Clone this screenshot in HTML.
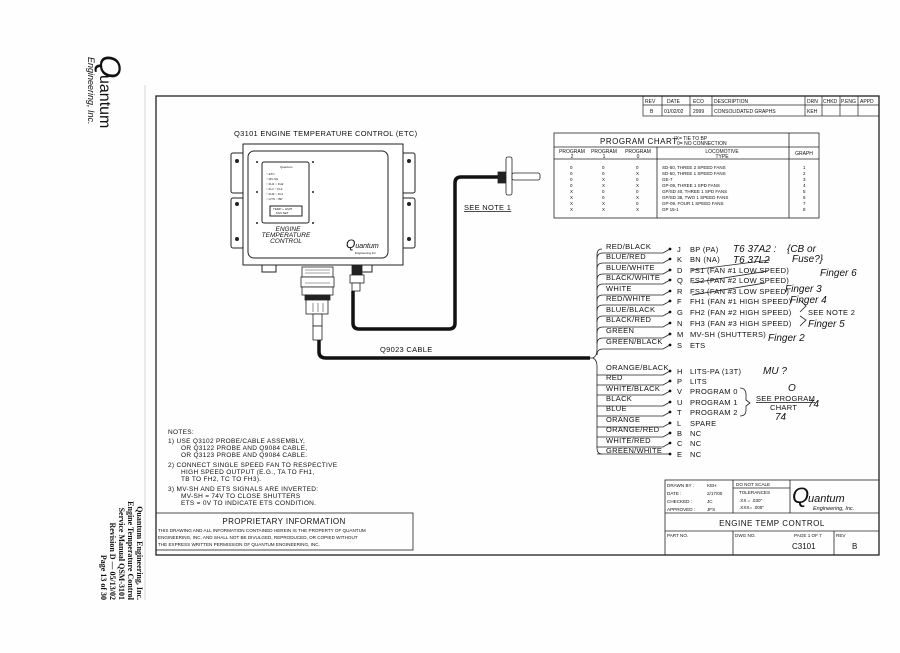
<!DOCTYPE html>
<html><head><meta charset="utf-8"><style>
html,body{margin:0;padding:0;background:#fff;}
svg{display:block;}
text{font-family:"Liberation Sans",sans-serif;fill:#111;}
.s{font-size:7.5px;letter-spacing:0.3px;}
.t{font-size:5px;}
.h{font-family:"Liberation Serif",serif;font-style:italic;font-size:10px;}
</style></head><body>
<svg width="900" height="653" viewBox="0 0 900 653" xmlns="http://www.w3.org/2000/svg">
<rect width="900" height="653" fill="#fefefe"/>
<!-- left logo rotated -->
<g transform="translate(100,55) rotate(90)">
<text x="0" y="0" style="font-size:30px;font-style:italic">Q</text>
<text x="20" y="0" style="font-size:16px">uantum</text>
<text x="2" y="12" style="font-size:9px;font-style:italic">Engineering, Inc.</text>
</g>
<line x1="145" y1="85" x2="145" y2="600" stroke="#bbb" stroke-width="0.6"/>
<!-- bottom-left rotated text -->
<g transform="translate(0,600) rotate(90)" style="font-family:'Liberation Serif',serif;font-size:8px;font-weight:bold">
<text x="0" y="-137" text-anchor="end" style="font-family:'Liberation Serif',serif">Quantum Engineering, Inc.</text>
<text x="0" y="-128" text-anchor="end" style="font-family:'Liberation Serif',serif">Engine Temperature Control</text>
<text x="0" y="-119" text-anchor="end" style="font-family:'Liberation Serif',serif">Service Manual QSM-3101</text>
<text x="0" y="-110" text-anchor="end" style="font-family:'Liberation Serif',serif">Revision D — 05/13/02</text>
<text x="0" y="-101" text-anchor="end" style="font-family:'Liberation Serif',serif">Page 13 of 30</text>
</g>
<!-- frame -->
<rect x="156" y="96" width="723" height="459" fill="none" stroke="#222" stroke-width="1.3"/>
<!-- revision table -->
<g stroke="#222" stroke-width="0.7" fill="none">
<rect x="643" y="96" width="236" height="20"/>
<line x1="643" y1="105" x2="879" y2="105"/>
<line x1="662" y1="96" x2="662" y2="116"/><line x1="690" y1="96" x2="690" y2="116"/>
<line x1="712" y1="96" x2="712" y2="116"/><line x1="805" y1="96" x2="805" y2="116"/>
<line x1="822" y1="96" x2="822" y2="116"/><line x1="840" y1="96" x2="840" y2="116"/>
<line x1="858" y1="96" x2="858" y2="116"/>
</g>
<g class="t">
<text x="645" y="103">REV</text><text x="667" y="103">DATE</text><text x="693" y="103">ECO</text><text x="714" y="103">DESCRIPTION</text>
<text x="807" y="103">DRN</text><text x="823" y="103">CHKD</text><text x="841" y="103">P.ENG</text><text x="860" y="103">APPD</text>
<text x="650" y="113">B</text><text x="664" y="113">01/02/02</text><text x="693" y="113">2999</text><text x="714" y="113">CONSOLIDATED GRAPHS</text><text x="807" y="113">KEH</text>
</g>
<!-- program chart -->
<g stroke="#222" stroke-width="0.8" fill="none">
<rect x="554" y="133" width="265" height="85"/>
<line x1="554" y1="147" x2="819" y2="147"/>
<line x1="554" y1="159" x2="819" y2="159"/>
<line x1="657" y1="147" x2="657" y2="218"/>
<line x1="789" y1="133" x2="789" y2="218"/>
</g>
<text x="600" y="144" style="font-size:8px;letter-spacing:0.5px">PROGRAM CHART</text>
<text x="674" y="140" class="t">{X= TIE TO BP</text><text x="677" y="145" class="t">0= NO CONNECTION</text>
<g class="t" text-anchor="middle">
<text x="572" y="153">PROGRAM</text><text x="572" y="158">2</text>
<text x="604" y="153">PROGRAM</text><text x="604" y="158">1</text>
<text x="638" y="153">PROGRAM</text><text x="638" y="158">0</text>
<text x="722" y="153">LOCOMOTIVE</text><text x="722" y="158">TYPE</text>
<text x="804" y="155">GRAPH</text>
</g>
<g class="t" style="font-size:4.5px">
<text x="570" y="169">0</text><text x="602" y="169">0</text><text x="636" y="169">0</text><text x="662" y="169">SD-50, THREE 2 SPEED FANS</text><text x="803" y="169">1</text>
<text x="570" y="175">0</text><text x="602" y="175">0</text><text x="636" y="175">X</text><text x="662" y="175">SD-50, THREE 1 SPEED FANS</text><text x="803" y="175">2</text>
<text x="570" y="181">0</text><text x="602" y="181">X</text><text x="636" y="181">0</text><text x="662" y="181">GE-7</text><text x="803" y="181">3</text>
<text x="570" y="187">0</text><text x="602" y="187">X</text><text x="636" y="187">X</text><text x="662" y="187">GP-09, THREE 1 SPD FANS</text><text x="803" y="187">4</text>
<text x="570" y="193">X</text><text x="602" y="193">0</text><text x="636" y="193">0</text><text x="662" y="193">GP/SD 40, THREE 1 SPD FANS</text><text x="803" y="193">5</text>
<text x="570" y="199">X</text><text x="602" y="199">0</text><text x="636" y="199">X</text><text x="662" y="199">GP/SD 38, TWO 1 SPEED FANS</text><text x="803" y="199">6</text>
<text x="570" y="205">X</text><text x="602" y="205">X</text><text x="636" y="205">0</text><text x="662" y="205">GP-09, FOUR 1 SPEED FANS</text><text x="803" y="205">7</text>
<text x="570" y="211">X</text><text x="602" y="211">X</text><text x="636" y="211">X</text><text x="662" y="211">GP 15-1</text><text x="803" y="211">8</text>
</g>
<!-- device -->
<text x="234" y="136" class="s">Q3101 ENGINE TEMPERATURE CONTROL (ETC)</text>
<g stroke="#222" stroke-width="1" fill="#fff">
<rect x="231" y="153" width="13" height="40" rx="2"/><rect x="231" y="198" width="13" height="50" rx="2"/>
<rect x="402" y="153" width="13" height="40" rx="2"/><rect x="402" y="198" width="13" height="50" rx="2"/>
<rect x="262" y="262" width="14" height="10"/><rect x="358" y="262" width="14" height="10"/>
<rect x="243" y="144" width="160" height="121"/>
<rect x="248" y="151" width="140" height="107" rx="6"/>
<rect x="262" y="162" width="47" height="61" rx="2"/>
<rect x="270" y="206" width="32" height="10"/>
</g>
<g fill="#222">
<circle cx="237" cy="161" r="2"/><circle cx="237" cy="204" r="2"/><circle cx="237" cy="239" r="2"/>
<circle cx="409" cy="161" r="2"/><circle cx="409" cy="204" r="2"/><circle cx="409" cy="239" r="2"/>
<circle cx="257" cy="162" r="1"/><circle cx="313" cy="162" r="1"/><circle cx="257" cy="192" r="1"/><circle cx="313" cy="192" r="1"/><circle cx="257" cy="223" r="1"/><circle cx="313" cy="223" r="1"/>
</g>
<g style="font-size:3px">
<text x="280" y="168">Quantum</text>
<text x="266" y="175">○ ETC</text><text x="266" y="180">○ MV-SH</text><text x="266" y="185">○ FH1 ○ FH2</text><text x="266" y="190">○ FL1 ○ FL2</text><text x="266" y="195">○ FH3 ○ FL3</text><text x="266" y="200">○ LITS ○ BP</text>
<text x="273" y="210">TEMP + LIMIT</text><text x="276" y="214">FAN SET</text>
</g>
<g style="font-size:6.5px;font-style:italic" text-anchor="middle">
<text x="288" y="231">ENGINE</text><text x="286" y="237">TEMPERATURE</text><text x="286" y="243">CONTROL</text>
</g>
<text x="346" y="248" style="font-size:12px;font-style:italic">Q<tspan style="font-size:7px">uantum</tspan></text>
<text x="355" y="254" style="font-size:3px">Engineering Inc</text>
<!-- main connector -->
<g stroke="#222" stroke-width="0.8" fill="#fff">
<rect x="302" y="267" width="31" height="10"/>
<rect x="301" y="277" width="33" height="10"/>
<rect x="302" y="287" width="31" height="8"/>
<rect x="305" y="295" width="25" height="5" fill="#222"/>
<rect x="306" y="300" width="22" height="14"/>
<rect x="313" y="314" width="9" height="12"/>
<rect x="313" y="326" width="9" height="14"/>
<rect x="352" y="265" width="10" height="10" fill="#222"/>
<rect x="350" y="275" width="14" height="8"/>
<rect x="352" y="283" width="8" height="8"/>
</g>
<g stroke="#444" stroke-width="0.6"><line x1="305" y1="270" x2="330" y2="270"/><line x1="305" y1="273" x2="330" y2="273"/><line x1="305" y1="283" x2="330" y2="283"/><line x1="313" y1="303" x2="313" y2="312"/><line x1="318" y1="303" x2="318" y2="312"/><line x1="323" y1="303" x2="323" y2="312"/></g>
<!-- cables -->
<path d="M319 340 V352 Q319 358 326 358 H590" stroke="#111" stroke-width="3.5" fill="none"/>
<path d="M353 291 V323 Q353 329 359 329 H449 Q455 329 455 323 V183 Q455 177 461 177 H500" stroke="#111" stroke-width="3.5" fill="none"/>
<text x="380" y="352" class="s">Q9023 CABLE</text>
<!-- probe -->
<g stroke="#222" stroke-width="0.8" fill="#fff">
<rect x="498" y="172" width="8" height="11" fill="#222"/>
<rect x="506" y="157" width="6" height="38" rx="2"/>
<rect x="512" y="173" width="28" height="7" rx="2"/>
</g>
<text x="464" y="210" class="s" text-decoration="underline">SEE NOTE 1</text>
<!-- brace and wires -->
<g stroke="#222" stroke-width="0.8" fill="none">
<path d="M590 358 H593"/>
<path d="M602 249 Q597 249 597 255 V350 Q597 356 593 358 Q597 360 597 366 V448 Q597 454 602 454"/>
</g>
<g id="wires" stroke="#222" stroke-width="0.8" fill="none">
<path d="M597 259 Q597 253 603 253 H663 L670 249"/>
<path d="M597 269 Q597 263 603 263 H663 L670 259"/>
<path d="M597 280 Q597 274 603 274 H663 L670 270"/>
<path d="M597 290 Q597 284 603 284 H663 L670 280"/>
<path d="M597 301 Q597 295 603 295 H663 L670 291"/>
<path d="M597 311 Q597 305 603 305 H663 L670 301"/>
<path d="M597 322 Q597 316 603 316 H663 L670 312"/>
<path d="M597 333 Q597 327 603 327 H663 L670 323"/>
<path d="M597 344 Q597 338 603 338 H663 L670 334"/>
<path d="M597 355 Q597 349 603 349 H663 L670 345"/>
<path d="M597 375 Q597 375 603 375 H663 L670 371"/>
<path d="M597 385 Q597 385 603 385 H663 L670 381"/>
<path d="M597 395 Q597 395 603 395 H663 L670 391"/>
<path d="M597 406 Q597 406 603 406 H663 L670 402"/>
<path d="M597 416 Q597 416 603 416 H663 L670 412"/>
<path d="M597 427 Q597 427 603 427 H663 L670 423"/>
<path d="M597 437 Q597 437 603 437 H663 L670 433"/>
<path d="M597 447 Q597 447 603 447 H663 L670 443"/>
<path d="M597 454 H663 L670 454"/>
</g>
<g class="s">
<text x="606" y="249">RED/BLACK</text><text x="606" y="259">BLUE/RED</text><text x="606" y="270">BLUE/WHITE</text><text x="606" y="280">BLACK/WHITE</text><text x="606" y="291">WHITE</text><text x="606" y="301">RED/WHITE</text><text x="606" y="312">BLUE/BLACK</text><text x="606" y="322">BLACK/RED</text><text x="606" y="333">GREEN</text><text x="606" y="344">GREEN/BLACK</text>
<text x="606" y="370">ORANGE/BLACK</text><text x="606" y="380">RED</text><text x="606" y="391">WHITE/BLACK</text><text x="606" y="401">BLACK</text><text x="606" y="411">BLUE</text><text x="606" y="422">ORANGE</text><text x="606" y="432">ORANGE/RED</text><text x="606" y="443">WHITE/RED</text><text x="606" y="453">GREEN/WHITE</text>
</g>
<g fill="#111">
<circle cx="670" cy="249" r="1.4"/><circle cx="670" cy="259" r="1.4"/><circle cx="670" cy="270" r="1.4"/><circle cx="670" cy="280" r="1.4"/><circle cx="670" cy="291" r="1.4"/><circle cx="670" cy="301" r="1.4"/><circle cx="670" cy="312" r="1.4"/><circle cx="670" cy="323" r="1.4"/><circle cx="670" cy="334" r="1.4"/><circle cx="670" cy="345" r="1.4"/>
<circle cx="670" cy="371" r="1.4"/><circle cx="670" cy="381" r="1.4"/><circle cx="670" cy="391" r="1.4"/><circle cx="670" cy="402" r="1.4"/><circle cx="670" cy="412" r="1.4"/><circle cx="670" cy="423" r="1.4"/><circle cx="670" cy="433" r="1.4"/><circle cx="670" cy="443" r="1.4"/><circle cx="670" cy="454" r="1.4"/>
</g>
<g class="s">
<text x="677" y="252">J</text><text x="690" y="252">BP (PA)</text>
<text x="677" y="262">K</text><text x="690" y="262">BN (NA)</text>
<text x="677" y="273">D</text><text x="690" y="273">FS1 (FAN #1 LOW SPEED)</text>
<text x="677" y="283">Q</text><text x="690" y="283">FS2 (FAN #2 LOW SPEED)</text>
<text x="677" y="294">R</text><text x="690" y="294">FS3 (FAN #3 LOW SPEED)</text>
<text x="677" y="304">F</text><text x="690" y="304">FH1 (FAN #1 HIGH SPEED)</text>
<text x="677" y="315">G</text><text x="690" y="315">FH2 (FAN #2 HIGH SPEED)</text>
<text x="677" y="326">N</text><text x="690" y="326">FH3 (FAN #3 HIGH SPEED)</text>
<text x="677" y="337">M</text><text x="690" y="337">MV-SH (SHUTTERS)</text>
<text x="677" y="348">S</text><text x="690" y="348">ETS</text>
<text x="677" y="374">H</text><text x="690" y="374">LITS-PA (13T)</text>
<text x="677" y="384">P</text><text x="690" y="384">LITS</text>
<text x="677" y="394">V</text><text x="690" y="394">PROGRAM 0</text>
<text x="677" y="405">U</text><text x="690" y="405">PROGRAM 1</text>
<text x="677" y="415">T</text><text x="690" y="415">PROGRAM 2</text>
<text x="677" y="426">L</text><text x="690" y="426">SPARE</text>
<text x="677" y="436">B</text><text x="690" y="436">NC</text>
<text x="677" y="446">C</text><text x="690" y="446">NC</text>
<text x="677" y="457">E</text><text x="690" y="457">NC</text>
<text x="808" y="315">SEE NOTE 2</text>
<text x="756" y="401" text-decoration="underline">SEE PROGRAM</text><text x="770" y="410">CHART</text>
</g>
<g stroke="#222" stroke-width="0.8" fill="none">
<path d="M740 388 Q746 388 746 395 V400 L750 403 L746 406 V410 Q746 416 740 416"/>
<path d="M692 270 L770 260"/><path d="M692 283 L768 271"/><path d="M692 295 L765 283"/>
<path d="M800 300 L806 306 L800 312 M800 316 L806 320 L800 326"/>
</g>
<g class="h">
<text x="733" y="252">T6 37A2 :</text><text x="733" y="263">T6 37L2</text>
<text x="787" y="252">{CB or</text><text x="792" y="262">Fuse?}</text>
<text x="820" y="276">Finger 6</text><text x="785" y="292">Finger 3</text><text x="790" y="303">Finger 4</text><text x="808" y="327">Finger 5</text><text x="768" y="341">Finger 2</text>
<text x="763" y="374">MU ?</text><text x="788" y="391">O</text><text x="808" y="407">74</text><text x="775" y="420">74</text>
</g>
<!-- notes -->
<g class="s" style="font-size:6.5px">
<text x="168" y="434">NOTES:</text>
<text x="168" y="443">1)  USE Q3102 PROBE/CABLE ASSEMBLY,</text>
<text x="181" y="450">OR Q3122 PROBE AND Q9084 CABLE,</text>
<text x="181" y="457">OR Q3123 PROBE AND Q9084 CABLE.</text>
<text x="168" y="467">2)  CONNECT SINGLE SPEED FAN TO RESPECTIVE</text>
<text x="181" y="474">HIGH SPEED OUTPUT (E.G., TA TO FH1,</text>
<text x="181" y="481">TB TO FH2, TC TO FH3).</text>
<text x="168" y="491">3)  MV-SH AND ETS SIGNALS ARE INVERTED:</text>
<text x="181" y="498">MV-SH = 74V TO CLOSE SHUTTERS</text>
<text x="181" y="505">ETS = 0V TO INDICATE ETS CONDITION.</text>
</g>
<rect x="156" y="513" width="257" height="37" fill="none" stroke="#222" stroke-width="0.8"/>
<text x="284" y="524" text-anchor="middle" style="font-size:8px;letter-spacing:0.4px">PROPRIETARY INFORMATION</text>
<g style="font-size:4.6px">
<text x="158" y="532">THIS DRAWING AND ALL INFORMATION CONTAINED HEREIN IS THE PROPERTY OF QUANTUM</text>
<text x="158" y="539">ENGINEERING, INC. AND SHALL NOT BE DIVULGED, REPRODUCED, OR COPIED WITHOUT</text>
<text x="158" y="546">THE EXPRESS WRITTEN PERMISSION OF QUANTUM ENGINEERING, INC.</text>
</g>
<!-- title block -->
<g stroke="#222" stroke-width="0.8" fill="none">
<rect x="665" y="480" width="214" height="75"/>
<line x1="665" y1="513" x2="879" y2="513"/>
<line x1="665" y1="531" x2="879" y2="531"/>
<line x1="733" y1="480" x2="733" y2="513"/><line x1="790" y1="480" x2="790" y2="513"/>
<line x1="733" y1="531" x2="733" y2="555"/><line x1="834" y1="531" x2="834" y2="555"/>
<line x1="733" y1="488" x2="790" y2="488"/>
</g>
<g style="font-size:4.6px">
<text x="667" y="487">DRAWN BY :</text><text x="707" y="487">KEH</text>
<text x="667" y="495">DATE :</text><text x="707" y="495">2/17/00</text>
<text x="667" y="503">CHECKED :</text><text x="707" y="503">JC</text>
<text x="667" y="511">APPROVED :</text><text x="707" y="511">JFS</text>
<text x="736" y="486">DO NOT SCALE</text>
<text x="739" y="494">TOLERANCES</text>
<text x="739" y="502">.XX = .030"</text><text x="739" y="509">.XXX= .005"</text>
<text x="667" y="537">PART NO.</text><text x="735" y="537">DWG NO.</text><text x="794" y="537">PAGE 1 OF 7</text><text x="836" y="537">REV</text>
</g>
<text x="792" y="503" style="font-size:22px;font-style:italic">Q</text>
<text x="808" y="502" style="font-size:11px;font-style:italic">uantum</text>
<text x="813" y="510" style="font-size:5.5px;font-style:italic">Engineering, Inc.</text>
<text x="772" y="526" text-anchor="middle" style="font-size:8px;letter-spacing:0.5px">ENGINE TEMP CONTROL</text>
<text x="792" y="549" style="font-size:8px">C3101</text>
<text x="852" y="549" style="font-size:8px">B</text>
</svg>
</body></html>
